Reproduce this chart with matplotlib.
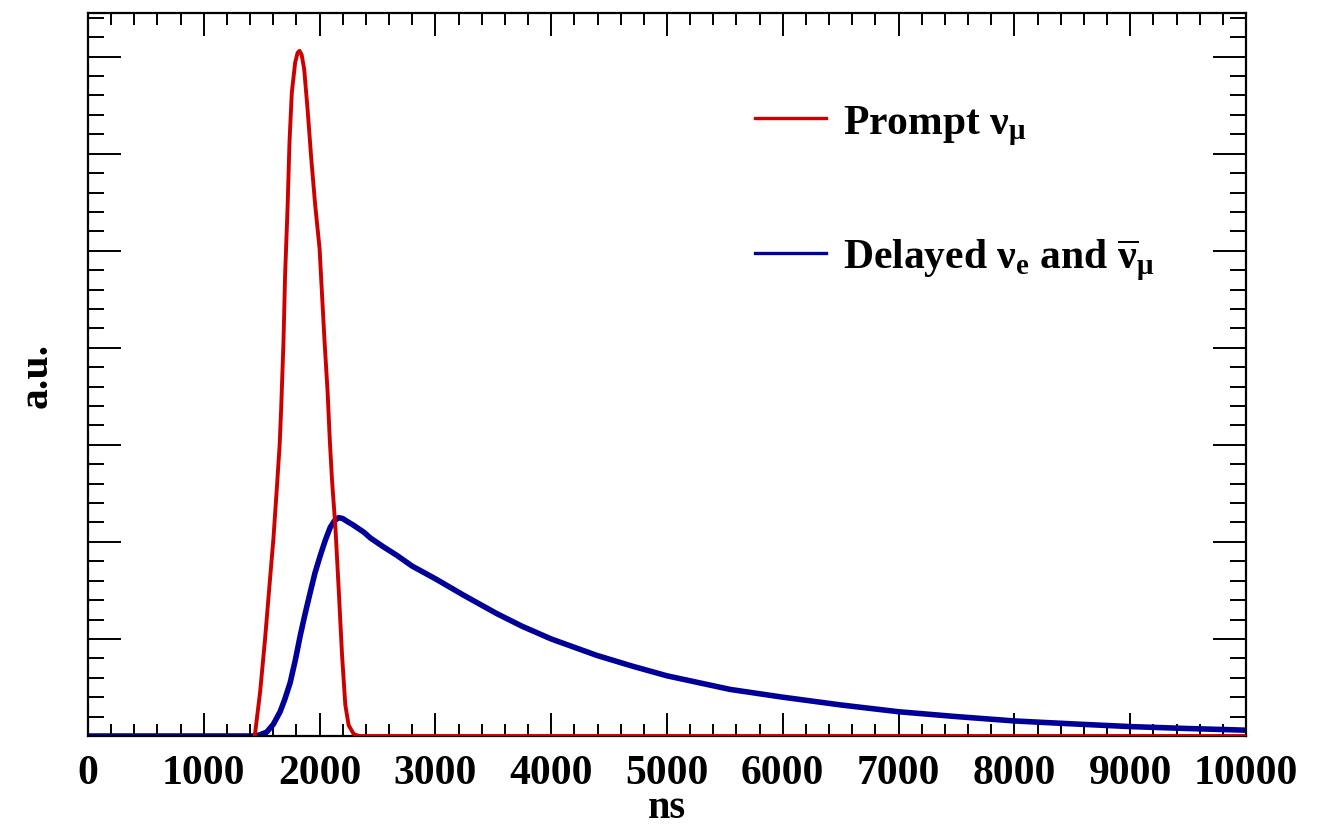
import matplotlib
matplotlib.use("Agg")
import matplotlib.pyplot as plt
from matplotlib.ticker import MultipleLocator

# time in ns, values in arbitrary units
prompt_t = [1440, 1486, 1529, 1572, 1601, 1630, 1655, 1668, 1688, 1702, 1723, 1740, 1760,
            1789, 1810, 1827, 1845, 1867, 1896, 1928, 1962, 2000, 2020, 2043, 2069, 2088,
            2107, 2136, 2165, 2194, 2222, 2251, 2295, 2340, 10000]
prompt_y = [0, 0.45, 1.0, 1.62, 2.03, 2.54, 3.0, 3.37, 4.06, 4.75, 5.43, 6.12, 6.63,
            6.94, 7.04, 7.06, 7.02, 6.87, 6.46, 5.95, 5.47, 5.02, 4.57, 4.06, 3.55, 3.05,
            2.64, 2.16, 1.51, 0.83, 0.32, 0.11, 0.02, 0, 0]

delayed_t = [0, 1430, 1480, 1543, 1600, 1659, 1700, 1746, 1790, 1832, 1875, 1919, 1960,
             2006, 2050, 2092, 2130, 2165, 2200, 2240, 2295, 2382, 2439, 2550, 2669, 2800,
             3000, 3245, 3532, 3750, 4000, 4395, 4700, 5000, 5545, 6000, 6500, 7000, 7500,
             8000, 8500, 9000, 9500, 10000]
delayed_y = [0, 0, 0.01, 0.04, 0.12, 0.25, 0.38, 0.55, 0.78, 1.03, 1.26, 1.48, 1.68,
             1.86, 2.02, 2.15, 2.22, 2.25, 2.24, 2.21, 2.17, 2.10, 2.04, 1.95, 1.86, 1.75,
             1.62, 1.45, 1.26, 1.13, 1.0, 0.83, 0.72, 0.62, 0.48, 0.40, 0.32, 0.25, 0.20,
             0.155, 0.125, 0.097, 0.077, 0.06]

x_ticks = list(range(0, 10001, 1000))
x_ticklabels = [str(t) for t in x_ticks]

plt.rcParams['font.family'] = ['Liberation Serif', 'DejaVu Serif']
plt.rcParams['font.weight'] = 'bold'
plt.rcParams['mathtext.fontset'] = 'custom'
plt.rcParams['mathtext.rm'] = 'Liberation Serif'
plt.rcParams['mathtext.it'] = 'Liberation Serif:italic'
plt.rcParams['mathtext.bf'] = 'Liberation Serif:bold'

red = '#cc0000'
blue = '#000099'

fig = plt.figure(figsize=(13.25, 8.28), dpi=100)
ax = fig.add_axes([88 / 1325, 1 - 737 / 828, (1246 - 88) / 1325, (737 - 14) / 828])

ax.plot(delayed_t, delayed_y, color=blue, lw=4.0,
        label=r'Delayed $\mathrm{ν}_{\mathbf{e}}$ and $\overline{\mathrm{ν}}_{\mathrm{μ}}$',
        solid_joinstyle='round', zorder=2)
ax.plot(prompt_t, prompt_y, color=red, lw=2.8, label=r'Prompt $\mathrm{ν}_{\mathrm{μ}}$',
        solid_joinstyle='round', zorder=3)

ax.set_xlim(0, 10000)
ax.set_ylim(0, 7.45)
ax.set_xticks(x_ticks)
ax.set_xticklabels(x_ticklabels)
ax.xaxis.set_minor_locator(MultipleLocator(200))
ax.yaxis.set_major_locator(MultipleLocator(1))
ax.yaxis.set_minor_locator(MultipleLocator(0.2))
ax.set_yticklabels([])

ax.tick_params(which='both', direction='in', top=True, right=True, width=1.4, colors='black')
ax.tick_params(axis='x', which='major', length=16.5, labelsize=30, pad=13)
ax.tick_params(axis='x', which='minor', length=8.3)
ax.tick_params(axis='y', which='major', length=23.5)
ax.tick_params(axis='y', which='minor', length=11.5)
for lab in ax.get_xticklabels():
    lab.set_fontweight('bold')
for sp in ax.spines.values():
    sp.set_linewidth(1.6)

ax.set_xlabel('ns', fontsize=29, fontweight='bold', labelpad=-2)
ax.set_ylabel('a.u.', fontsize=30, fontweight='bold', labelpad=20)

handles, labels = ax.get_legend_handles_labels()
leg = ax.legend(handles[::-1], labels[::-1], loc='upper left', bbox_to_anchor=(0.576, 0.875),
                frameon=False, fontsize=30, handlelength=1.7, handletextpad=0.4,
                labelspacing=2.15, borderpad=0, borderaxespad=0)
for line in leg.get_lines():
    line.set_linewidth(2.4)

fig.savefig('out.png', dpi=100)
